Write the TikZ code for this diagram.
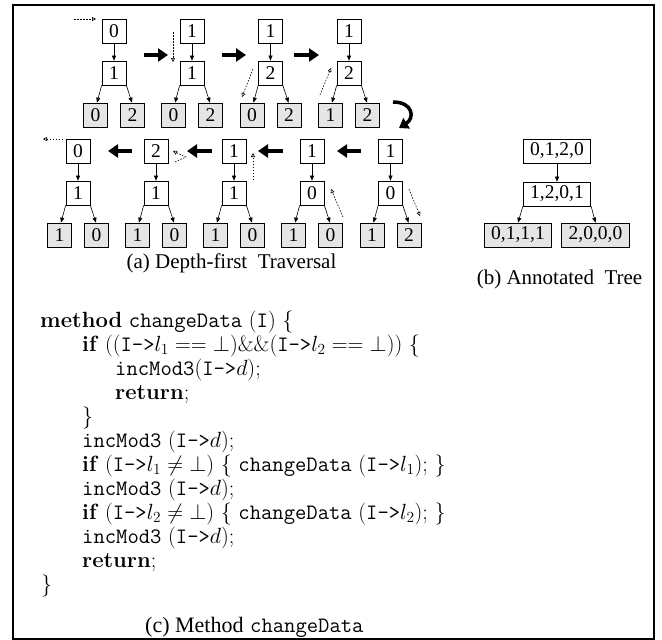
\RequirePackage{fix-cm}
\documentclass[tikz,border=0pt]{standalone}
\usepackage{fontspec}
\newfontfamily\tms{Liberation Serif}
\usetikzlibrary{arrows.meta}

% pointer access "I->" in typewriter
\newcommand\Iarrow{\texttt{I->}}

% one snapshot of the traversal: root, inner node and two leaves
% #1 name prefix, #2 x centre, #3 y of root, #4 root, #5 inner, #6 left leaf, #7 right leaf
\newcommand\travtree[7]{%
  \node[tbox] (#1r) at ({#2},{#3}) {#4};
  \node[tbox] (#1m) at ({#2},{#3+42}) {#5};
  \node[leafbox] (#1a) at ({#2-18.5},{#3+84}) {#6};
  \node[leafbox] (#1b) at ({#2+18.5},{#3+84}) {#7};
  \draw[edge] (#1r) -- (#1m);
  \draw[edge] (#1m.south west) -- ([xshift=1.5pt]#1a.north);
  \draw[edge] (#1m.south east) -- ([xshift=-0.5pt]#1b.north);
}

\begin{document}
\begin{tikzpicture}[x=1pt,y=-1pt,
  tbox/.style={draw, line width=0.7pt, minimum width=24pt, minimum height=24pt,
    inner xsep=7pt, inner ysep=1pt, font=\tms\fontsize{19.5pt}{22pt}\selectfont},
  leafbox/.style={tbox, fill=black!10},
  edge/.style={-{Triangle[length=5pt,width=4pt]}, line width=0.6pt},
  bigarrow/.style={-{Triangle[length=10pt,width=13pt]}, line width=4pt},
  hint/.style={-{Triangle[open,length=4pt,width=4pt]}, line width=0.6pt,
    dash pattern=on 1.5pt off 1.5pt},
  caption/.style={font=\tms\fontsize{21pt}{24pt}\selectfont, inner sep=0pt, anchor=base},
  code/.style={font=\fontsize{22pt}{24pt}\selectfont, inner sep=0pt, anchor=base west}]

\useasboundingbox (0,0) rectangle (662,640);
\draw[line width=1.3pt] (13,5) rectangle (654,639);

% ---- (a) depth-first traversal, first row ----
\travtree{p}{114}{31}{0}{1}{0}{2}
\travtree{q}{192}{31}{1}{1}{0}{2}
\travtree{s}{270.5}{31}{1}{2}{0}{2}
\travtree{t}{349}{31}{1}{2}{1}{2}

\coordinate (a1s) at (144,55);  \coordinate (a1e) at (168,55);
\coordinate (a2s) at (222,55);  \coordinate (a2e) at (246,55);
\coordinate (a3s) at (294,55);  \coordinate (a3e) at (319,55);
\draw[bigarrow] (a1s) -- (a1e);
\draw[bigarrow] (a2s) -- (a2e);
\draw[bigarrow] (a3s) -- (a3e);

\coordinate (h1s) at (74,19);   \coordinate (h1e) at (96,19);
\coordinate (h2s) at (173,32);  \coordinate (h2e) at (173,62);
\coordinate (h3s) at (253,69);  \coordinate (h3e) at (242,97);
\coordinate (h4s) at (320,95);  \coordinate (h4e) at (331,68);
\draw[hint] (h1s) -- (h1e);
\draw[hint] (h2s) -- (h2e);
\draw[hint] (h3s) -- (h3e);
\draw[hint] (h4s) -- (h4e);

% turn from the first row to the second
\coordinate (ts) at (393,102); \coordinate (te) at (399,128);
\draw[-{Triangle[length=9pt,width=12pt]}, line width=3.5pt]
  (ts) .. controls (413,102) and (415,118) .. (te);

% ---- second row ----
\travtree{u}{390.5}{151}{1}{0}{1}{2}
\travtree{v}{312}{151}{1}{0}{1}{0}
\travtree{w}{234}{151}{1}{1}{1}{0}
\travtree{y}{156}{151}{2}{1}{1}{0}
\travtree{z}{78}{151}{0}{1}{1}{0}

\coordinate (b1s) at (361,151); \coordinate (b1e) at (337,151);
\coordinate (b2s) at (283,151); \coordinate (b2e) at (258,151);
\coordinate (b3s) at (212,151); \coordinate (b3e) at (187,151);
\coordinate (b4s) at (132,151); \coordinate (b4e) at (108,151);
\draw[bigarrow] (b1s) -- (b1e);
\draw[bigarrow] (b2s) -- (b2e);
\draw[bigarrow] (b3s) -- (b3e);
\draw[bigarrow] (b4s) -- (b4e);

\coordinate (g1s) at (409,189); \coordinate (g1e) at (420,216);
\coordinate (g2s) at (343,217); \coordinate (g2e) at (331,189);
\coordinate (g3s) at (253,180); \coordinate (g3e) at (253,153);
\coordinate (g4s) at (175,162); \coordinate (g4m) at (186,157); \coordinate (g4e) at (173,151);
\coordinate (g5s) at (63,139);  \coordinate (g5e) at (43,139);
\draw[hint] (g1s) -- (g1e);
\draw[hint] (g2s) -- (g2e);
\draw[hint] (g3s) -- (g3e);
\draw[hint] (g4s) -- (g4m) -- (g4e);
\draw[hint] (g5s) -- (g5e);

\node[caption] (capa) at (231.5,268) {(a)~Depth-first~~Traversal};

% ---- (b) annotated tree ----
\node[tbox] (nr) at (557,151) {0,1,2,0};
\node[tbox] (nm) at (557,194) {1,2,0,1};
\node[leafbox] (nl) at (518,235) {0,1,1,1};
\node[leafbox] (nrr) at (595.5,235) {2,0,0,0};
\draw[edge] (nr) -- (nm);
\draw[edge] (nm.south west) -- (nl.north);
\draw[edge] (nm.south east) -- (nrr.north);
\node[caption] (capb) at (559.5,284) {(b)~Annotated~~Tree};

% ---- (c) method changeData ----
\node[code] (c1)  at (40,327)  {\textbf{method} \texttt{changeData} (\texttt{I}) \{};
\node[code] (c2)  at (82,351)  {\textbf{if} ((\Iarrow$l_1 == \bot$)\&\&(\Iarrow$l_2 == \bot$)) \{};
\node[code] (c3)  at (115,375) {\texttt{incMod3}(\Iarrow$d$);};
\node[code] (c4)  at (115,399) {\textbf{return};};
\node[code] (c5)  at (82,423)  {\}};
\node[code] (c6)  at (82,447)  {\texttt{incMod3} (\Iarrow$d$);};
\node[code] (c7)  at (82,471)  {\textbf{if} $($\Iarrow$l_1 \neq \bot)$ \{ \texttt{changeData} (\Iarrow$l_1$); \}};
\node[code] (c8)  at (82,495)  {\texttt{incMod3} (\Iarrow$d$);};
\node[code] (c9)  at (82,519)  {\textbf{if} $($\Iarrow$l_2 \neq \bot)$ \{ \texttt{changeData} (\Iarrow$l_2$); \}};
\node[code] (c10) at (82,543)  {\texttt{incMod3} (\Iarrow$d$);};
\node[code] (c11) at (82,567)  {\textbf{return};};
\node[code] (c12) at (41,591)  {\}};
\node[code] (capc) at (145,632) {{\tms (c) Method} \texttt{changeData}};

\end{tikzpicture}
\end{document}
